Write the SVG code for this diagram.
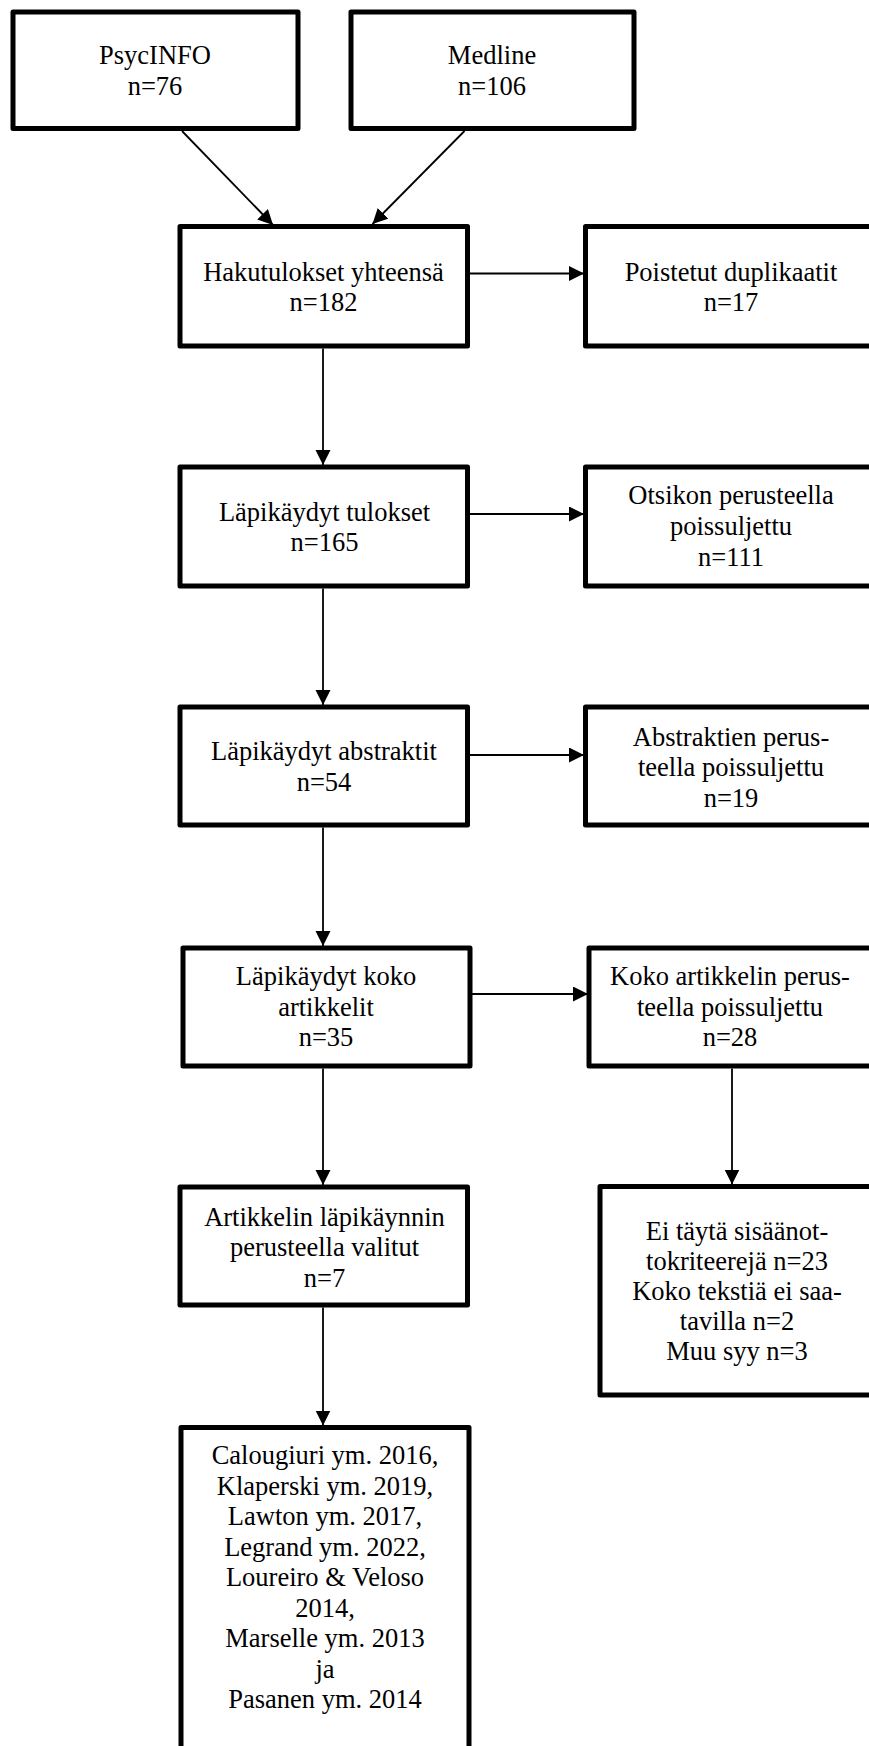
<svg xmlns="http://www.w3.org/2000/svg" width="869" height="1746" viewBox="0 0 869 1746">
<defs>
<style>
.box{fill:#fff;stroke:#000;stroke-width:5;stroke-linejoin:round}
.t{font-family:"Liberation Serif","Times New Roman",serif;font-size:26.5px;fill:#000;text-anchor:middle}
.c{fill:none;stroke:#000;stroke-width:1.8}
</style>
<marker id="ah" markerUnits="userSpaceOnUse" markerWidth="16" markerHeight="16" refX="15" refY="7.5" orient="auto">
<path d="M0,0 L15,7.5 L0,15 z" fill="#000"/>
</marker>
</defs>
<rect width="869" height="1746" fill="#fff"/>
<g id="connectors">
<line class="c" x1="182" y1="131" x2="273" y2="225" marker-end="url(#ah)"/>
<line class="c" x1="464.5" y1="131" x2="372.5" y2="224" marker-end="url(#ah)"/>
<line class="c" x1="470" y1="273.5" x2="584" y2="273.5" marker-end="url(#ah)"/>
<line class="c" x1="323" y1="348.5" x2="323" y2="465" marker-end="url(#ah)"/>
<line class="c" x1="470" y1="514" x2="584" y2="514" marker-end="url(#ah)"/>
<line class="c" x1="323" y1="588.5" x2="323" y2="705" marker-end="url(#ah)"/>
<line class="c" x1="470" y1="755" x2="584" y2="755" marker-end="url(#ah)"/>
<line class="c" x1="323" y1="827.5" x2="323" y2="946" marker-end="url(#ah)"/>
<line class="c" x1="472" y1="994" x2="588" y2="994" marker-end="url(#ah)"/>
<line class="c" x1="323" y1="1068.5" x2="323" y2="1185" marker-end="url(#ah)"/>
<line class="c" x1="732" y1="1068.5" x2="732" y2="1184.5" marker-end="url(#ah)"/>
<line class="c" x1="323" y1="1307.5" x2="323" y2="1425.5" marker-end="url(#ah)"/>
</g>
<g id="psycinfo">
<rect class="box" x="13" y="12" width="285" height="116.5"/>
<text class="t" x="155" y="63.5">PsycINFO</text>
<text class="t" x="155" y="95">n=76</text>
</g>
<g id="medline">
<rect class="box" x="351" y="12" width="283" height="116.5"/>
<text class="t" x="492" y="63.5">Medline</text>
<text class="t" x="492" y="95">n=106</text>
</g>
<g id="hakutulokset">
<rect class="box" x="180" y="226.5" width="287.5" height="119.5"/>
<text class="t" x="323.5" y="281">Hakutulokset yhteensä</text>
<text class="t" x="323.5" y="311">n=182</text>
</g>
<g id="poistetut">
<rect class="box" x="585.5" y="226.5" width="320" height="119.5"/>
<text class="t" x="731" y="281">Poistetut duplikaatit</text>
<text class="t" x="731" y="311">n=17</text>
</g>
<g id="tulokset">
<rect class="box" x="180" y="467" width="287.5" height="119"/>
<text class="t" x="324.5" y="520.5">Läpikäydyt tulokset</text>
<text class="t" x="324.5" y="551">n=165</text>
</g>
<g id="otsikon">
<rect class="box" x="585.5" y="467" width="320" height="119"/>
<text class="t" x="731" y="504">Otsikon perusteella</text>
<text class="t" x="731" y="535">poissuljettu</text>
<text class="t" x="731" y="566">n=111</text>
</g>
<g id="abstraktit">
<rect class="box" x="180" y="707" width="287.5" height="118"/>
<text class="t" x="324" y="760">Läpikäydyt abstraktit</text>
<text class="t" x="324" y="790.5">n=54</text>
</g>
<g id="abstraktien">
<rect class="box" x="585.5" y="707" width="320" height="118"/>
<text class="t" x="731" y="745.5">Abstraktien perus-</text>
<text class="t" x="731" y="776">teella poissuljettu</text>
<text class="t" x="731" y="806.5">n=19</text>
</g>
<g id="koko">
<rect class="box" x="183" y="948" width="287" height="118"/>
<text class="t" x="326" y="985">Läpikäydyt koko</text>
<text class="t" x="326" y="1015.5">artikkelit</text>
<text class="t" x="326" y="1046">n=35</text>
</g>
<g id="koko-perus">
<rect class="box" x="589" y="948" width="320" height="118"/>
<text class="t" x="730" y="985">Koko artikkelin perus-</text>
<text class="t" x="730" y="1015.5">teella poissuljettu</text>
<text class="t" x="730" y="1046">n=28</text>
</g>
<g id="valitut">
<rect class="box" x="180" y="1187" width="287.5" height="118"/>
<text class="t" x="324.5" y="1226">Artikkelin läpikäynnin</text>
<text class="t" x="324.5" y="1256">perusteella valitut</text>
<text class="t" x="324.5" y="1286.5">n=7</text>
</g>
<g id="ei-tayta">
<rect class="box" x="600" y="1186.5" width="320" height="208.5"/>
<text class="t" x="737" y="1239.5">Ei täytä sisäänot-</text>
<text class="t" x="737" y="1269.5">tokriteerejä n=23</text>
<text class="t" x="737" y="1300">Koko tekstiä ei saa-</text>
<text class="t" x="737" y="1330">tavilla n=2</text>
<text class="t" x="737" y="1360">Muu syy n=3</text>
</g>
<g id="tutkimukset">
<rect class="box" x="181" y="1427.5" width="288" height="340"/>
<text class="t" x="325" y="1464">Calougiuri ym. 2016,</text>
<text class="t" x="325" y="1494.5">Klaperski ym. 2019,</text>
<text class="t" x="325" y="1525">Lawton ym. 2017,</text>
<text class="t" x="325" y="1555.5">Legrand ym. 2022,</text>
<text class="t" x="325" y="1586">Loureiro &amp; Veloso</text>
<text class="t" x="325" y="1616.5">2014,</text>
<text class="t" x="325" y="1647">Marselle ym. 2013</text>
<text class="t" x="325" y="1677.5">ja</text>
<text class="t" x="325" y="1708">Pasanen ym. 2014</text>
</g>
</svg>
